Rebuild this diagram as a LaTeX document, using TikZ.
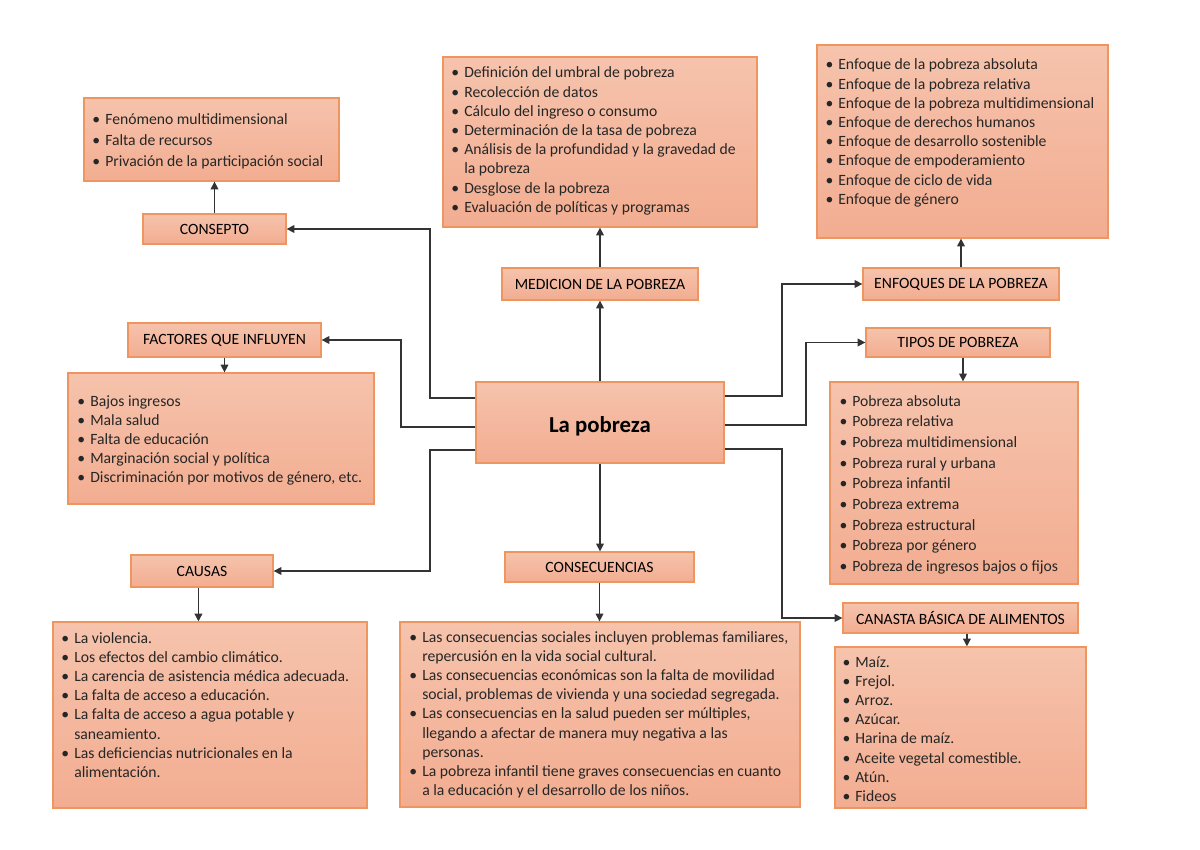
\documentclass[tikz,border=0pt]{standalone}
\usepackage{fontspec}
\setmainfont{Carlito}
\usetikzlibrary{fit,arrows.meta}
\definecolor{boxtop}{HTML}{F6C3AC}
\definecolor{boxbot}{HTML}{F2AD91}
\definecolor{boxline}{HTML}{EF9660}
\definecolor{txt}{HTML}{262626}
\definecolor{conn}{HTML}{333333}
\newcommand\mybul{\llap{\textbullet\hspace{3.5pt}}}
\begin{document}
\begin{tikzpicture}[x=0.7016pt,y=-0.7016pt,
  box/.style={draw=boxline, line width=0.9pt, top color=boxtop, bottom color=boxbot, inner sep=0pt, fit={#1}},
  lbltxt/.style={inner sep=0pt, anchor=center, font=\fontsize{11}{13.5}\selectfont, text=black},
  lst/.style={inner sep=0pt, anchor=base west, text=txt, font=\fontsize{11}{#1}\selectfont},
  arr/.style={draw=conn, line width=0.9pt, -{Triangle[length=5.5pt,width=5.5pt]}}]
\fill[white] (0,0) rectangle (1200,849);
\useasboundingbox (0,0) rectangle (1200,849);

% boxes
\node[box={(476,382) (724,463)}] (central) {};
\node[inner sep=0pt, font=\fontsize{16}{19}\selectfont\bfseries, text=black] (centralT) at ([yshift=-2.5pt]central.center) {La pobreza};

\node[box={(84,98) (339,181)}] (conceptList) {};
\node[box={(143,214) (286,244)}] (consepto) {};
\node[lbltxt] (conseptoT) at (consepto) {CONSEPTO};

\node[box={(443,57) (757,227)}] (medList) {};
\node[box={(502,268) (698,300)}] (medicion) {};
\node[lbltxt] (medicionT) at (medicion) {MEDICION DE LA POBREZA};

\node[box={(817,45) (1108,238)}] (enfList) {};
\node[box={(863,268) (1059,300)}] (enfoques) {};
\node[lbltxt] (enfoquesT) at (enfoques) {ENFOQUES DE LA POBREZA};

\node[box={(128,323) (321,357)}] (factores) {};
\node[lbltxt] (factoresT) at (factores) {FACTORES QUE INFLUYEN};
\node[box={(68,373) (374,504)}] (factList) {};

\node[box={(866,328) (1050,357)}] (tipos) {};
\node[lbltxt] (tiposT) at (tipos) {TIPOS DE POBREZA};
\node[box={(830,382) (1078,584)}] (tiposList) {};

\node[box={(131,555) (273,587)}] (causas) {};
\node[lbltxt] (causasT) at (causas) {CAUSAS};
\node[box={(53,622) (367,808)}] (causasList) {};

\node[box={(505,552) (694,582)}] (consec) {};
\node[lbltxt] (consecT) at (consec) {CONSECUENCIAS};
\node[box={(400,622) (800,807)}] (consecList) {};

\node[box={(843,603) (1078,633)}] (canasta) {};
\node[lbltxt] (canastaT) at (canasta) {CANASTA BÁSICA DE ALIMENTOS};
\node[box={(835,647) (1086,808)}] (canastaList) {};

% list texts
\node[lst=14.7] (conceptTxt) at (105,125) {\begin{tabular}[t]{@{}l@{}}
\mybul Fenómeno multidimensional\\
\mybul Falta de recursos\\
\mybul Privación de la participación social
\end{tabular}};

\node[lst=13.47] (medTxt) at (464,78) {\begin{tabular}[t]{@{}l@{}}
\mybul Definición del umbral de pobreza\\
\mybul Recolección de datos\\
\mybul Cálculo del ingreso o consumo\\
\mybul Determinación de la tasa de pobreza\\
\mybul Análisis de la profundidad y la gravedad de\\
la pobreza\\
\mybul Desglose de la pobreza\\
\mybul Evaluación de políticas y programas
\end{tabular}};

\node[lst=13.47] (enfTxt) at (838,70) {\begin{tabular}[t]{@{}l@{}}
\mybul Enfoque de la pobreza absoluta\\
\mybul Enfoque de la pobreza relativa\\
\mybul Enfoque de la pobreza multidimensional\\
\mybul Enfoque de derechos humanos\\
\mybul Enfoque de desarrollo sostenible\\
\mybul Enfoque de empoderamiento\\
\mybul Enfoque de ciclo de vida\\
\mybul Enfoque de género
\end{tabular}};

\node[lst=13.47] (factTxt) at (90,406) {\begin{tabular}[t]{@{}l@{}}
\mybul Bajos ingresos\\
\mybul Mala salud\\
\mybul Falta de educación\\
\mybul Marginación social y política\\
\mybul Discriminación por motivos de género, etc.
\end{tabular}};

\node[lst=14.5] (tiposTxt) at (852,406) {\begin{tabular}[t]{@{}l@{}}
\mybul Pobreza absoluta\\
\mybul Pobreza relativa\\
\mybul Pobreza multidimensional\\
\mybul Pobreza rural y urbana\\
\mybul Pobreza infantil\\
\mybul Pobreza extrema\\
\mybul Pobreza estructural\\
\mybul Pobreza por género\\
\mybul Pobreza de ingresos bajos o fijos
\end{tabular}};

\node[lst=13.47] (causasTxt) at (74,643) {\begin{tabular}[t]{@{}l@{}}
\mybul La violencia.\\
\mybul Los efectos del cambio climático.\\
\mybul La carencia de asistencia médica adecuada.\\
\mybul La falta de acceso a educación.\\
\mybul La falta de acceso a agua potable y\\
saneamiento.\\
\mybul Las deficiencias nutricionales en la\\
alimentación.
\end{tabular}};

\node[lst=13.47] (consecTxt) at (422,642) {\begin{tabular}[t]{@{}l@{}}
\mybul Las consecuencias sociales incluyen problemas familiares,\\
repercusión en la vida social cultural.\\
\mybul Las consecuencias económicas son la falta de movilidad\\
social, problemas de vivienda y una sociedad segregada.\\
\mybul Las consecuencias en la salud pueden ser múltiples,\\
llegando a afectar de manera muy negativa a las\\
personas.\\
\mybul La pobreza infantil tiene graves consecuencias en cuanto\\
a la educación y el desarrollo de los niños.
\end{tabular}};

\node[lst=13.47] (canastaTxt) at (855,667) {\begin{tabular}[t]{@{}l@{}}
\mybul Maíz.\\
\mybul Frejol.\\
\mybul Arroz.\\
\mybul Azúcar.\\
\mybul Harina de maíz.\\
\mybul Aceite vegetal comestible.\\
\mybul Atún.\\
\mybul Fideos
\end{tabular}};

% bend points
\coordinate (c1) at (430,398);
\coordinate (c2) at (401,427);
\coordinate (c3) at (430,450);
\coordinate (c4) at (782,396);
\coordinate (c5) at (806,425);
\coordinate (c6) at (782,449);

% connectors from center
\draw[arr] (central.west |- c1) -- (c1) |- (consepto.east);
\draw[arr] (central.west |- c2) -- (c2) |- (factores.east);
\draw[arr] (central.west |- c3) -- (c3) |- (causas.east);
\draw[arr] (central.east |- c4) -- (c4) |- (enfoques.west);
\draw[arr] (central.east |- c5) -- (c5) |- (tipos.west);
\draw[arr] (central.east |- c6) -- (c6) |- (canasta.west);
\draw[arr] (central.north) -- (central.north |- medicion.south);
\draw[arr] (central.south) -- (central.south |- consec.north);

% connectors from labels to lists
\draw[arr] (medicion.north) -- (medicion.north |- medList.south);
\draw[arr] (consec.south) -- (consec.south |- consecList.north);
\draw[arr] (consepto.north) -- (consepto.north |- conceptList.south);
\draw[arr] (factores.south) -- (factores.south |- factList.north);
\draw[arr] ([xshift=-2.5pt]causas.south) -- ([xshift=-2.5pt]causas.south |- causasList.north);
\draw[arr] (enfoques.north) -- (enfoques.north |- enfList.south);
\draw[arr] ([xshift=3.5pt]tipos.south) -- ([xshift=3.5pt]tipos.south |- tiposList.north);
\draw[arr] ([xshift=4.5pt]canasta.south) -- ([xshift=4.5pt]canasta.south |- canastaList.north);
\end{tikzpicture}
\end{document}
